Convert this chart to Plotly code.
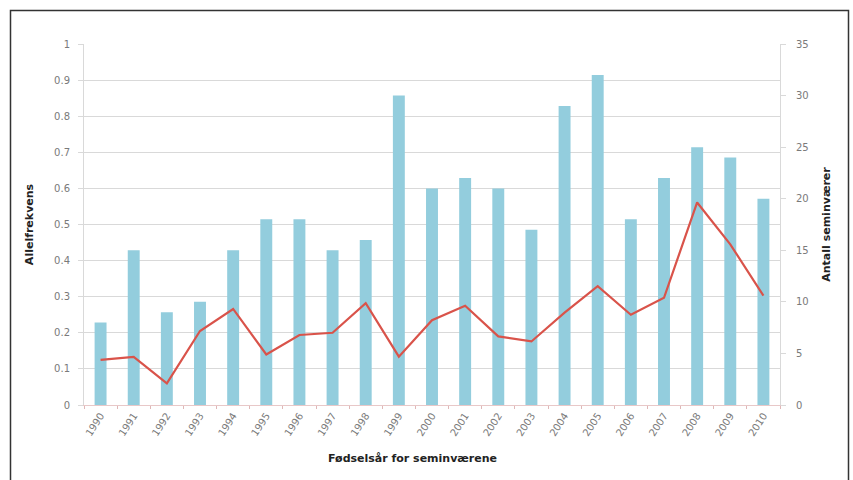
import plotly.graph_objects as go

years = [str(y) for y in range(1990, 2011)]
antall_seminvaer = [8, 15, 9, 10, 15, 18, 18, 15, 16, 30, 21, 22, 21, 17, 29, 32, 18, 22, 25, 24, 20]
allelfrekvens = [0.125, 0.133, 0.06, 0.205, 0.266, 0.14, 0.194, 0.2, 0.282, 0.134, 0.235,
                 0.275, 0.19, 0.176, 0.256, 0.329, 0.25, 0.297, 0.561, 0.445, 0.303]
left_ticks = [0, 0.1, 0.2, 0.3, 0.4, 0.5, 0.6, 0.7, 0.8, 0.9, 1]
left_ticktext = ["0", "0.1", "0.2", "0.3", "0.4", "0.5", "0.6", "0.7", "0.8", "0.9", "1"]
right_ticks = [0, 5, 10, 15, 20, 25, 30, 35]

fig = go.Figure()
# bars on the base axis (right side), line on the overlaying axis (left side) so it draws on top
fig.add_trace(go.Bar(x=years, y=antall_seminvaer, yaxis="y", marker=dict(color="#93CDDD", line=dict(width=0)),
                     name="Antall seminvær"))
fig.add_trace(go.Scatter(x=years, y=allelfrekvens, yaxis="y2", mode="lines",
                         line=dict(color="#D9534A", width=2.2), name="Allelfrekvens"))

tickfont = dict(family="DejaVu Sans", size=10, color="#7a7a7a")
titlefont = dict(family="DejaVu Sans", size=11, color="#222222", weight="bold")

fig.update_layout(
    width=853, height=480,
    margin=dict(l=84, r=73, t=44, b=75),
    paper_bgcolor="white", plot_bgcolor="white",
    showlegend=False,
    bargap=0.64,
    xaxis=dict(type="category", tickangle=-57, tickfont=tickfont, showgrid=False,
               showline=True, linecolor="#E8C8C8", linewidth=1,
               ticks="outside", ticklen=3, tickcolor="#E0B8B8", tickson="boundaries"),
    yaxis=dict(range=[0, 35], tickvals=right_ticks, tickfont=tickfont, side="right",
               showgrid=False, zeroline=False, showline=True, linecolor="#D9D9D9",
               ticks="outside", ticklen=5, tickcolor="#D9D9D9", ticklabelstandoff=8,
               minor=dict(tick0=0, dtick=3.5, showgrid=True, gridcolor="#D9D9D9", gridwidth=1),
               title=dict(text="Antall seminværer", font=titlefont, standoff=14)),
    yaxis2=dict(range=[0, 1], tickvals=left_ticks, ticktext=left_ticktext, tickfont=tickfont,
                overlaying="y", side="left",
                showgrid=False, zeroline=False,
                showline=True, linecolor="#D9D9D9", ticks="outside", ticklen=5, tickcolor="#D9D9D9",
                ticklabelstandoff=6,
                title=dict(text="Allelfrekvens", font=titlefont, standoff=18)),
    annotations=[dict(text="Fødselsår for seminværene", xref="paper", yref="paper",
                      x=(412 - 84) / 696, y=(405 - 458) / 361, xanchor="center", yanchor="middle",
                      showarrow=False, font=titlefont)],
    shapes=[dict(type="rect", xref="paper", yref="paper",
                 x0=(10.5 - 84) / 696, x1=(848.5 - 84) / 696,
                 y0=(405 - 490) / 361, y1=(405 - 10.5) / 361,
                 line=dict(color="#333333", width=1.5), fillcolor="rgba(0,0,0,0)", layer="below")],
)

fig.write_html("out.html")
